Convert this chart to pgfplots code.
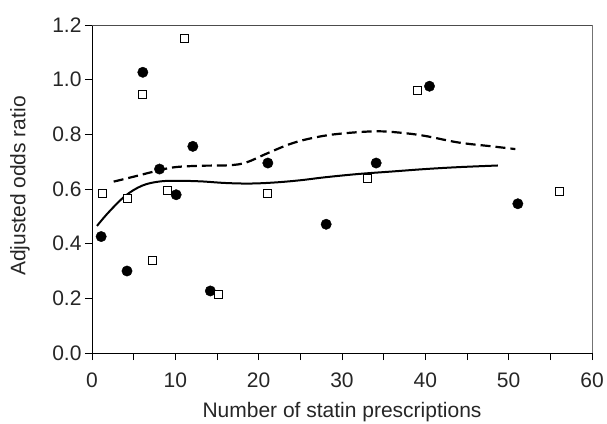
\documentclass[border=0pt]{standalone}
\usepackage{pgfplots}
\pgfplotsset{compat=1.18}
\usepackage{fontspec}
\setmainfont{Liberation Sans}
\begin{document}
\begin{tikzpicture}
\path[use as bounding box] (-92pt,-70pt) rectangle (515pt,353pt);
\begin{axis}[
  at={(0,0)}, anchor=south west,
  scale only axis, width=500pt, height=328pt,
  xmin=0, xmax=60, ymin=0, ymax=1.2,
  axis x line=bottom, axis y line=left,
  axis line style={-, line width=0.8pt},
  xtick={0,10,20,30,40,50,60}, minor xtick={5,15,25,35,45,55},
  ytick={0,0.2,0.4,0.6,0.8,1.0,1.2},
  tick align=outside, major tick length=7pt, minor tick length=7pt,
  tick style={black, line width=0.8pt},
  yticklabel style={/pgf/number format/.cd, fixed, fixed zerofill, precision=1},
  xticklabel style={yshift=-9pt},
  /pgf/number format/assume math mode=true,
  ticklabel style={font=\fontsize{21}{25}\selectfont, text=black!85},
  label style={font=\fontsize{21}{25}\selectfont, text=black!85},
  xlabel={Number of statin prescriptions},
  ylabel={Adjusted odds ratio},
  xlabel style={at={(axis description cs:0.5,-0.18)}, anchor=center},
  ylabel style={at={(axis description cs:-0.144,0.509)}, anchor=center},
  clip=false,
]
% solid smooth curve
\addplot[black, line width=2pt, smooth, tension=0.6] coordinates {
(0.6,0.465) (2,0.515) (4,0.575) (6,0.612) (8,0.627) (10,0.630) (13,0.628)
(16,0.622) (19,0.620) (22,0.624) (25,0.632) (28,0.643) (32,0.655) (36,0.664)
(40,0.673) (44,0.680) (48.7,0.686)};
% dashed smooth curve
\addplot[black, line width=2.2pt, dash pattern=on 10pt off 5pt, smooth, tension=0.6] coordinates {
(2.6,0.627) (5,0.645) (8,0.668) (10,0.680) (13,0.685) (16.5,0.687) (18.5,0.697)
(21,0.730) (24,0.767) (27,0.790) (30,0.803) (34,0.811) (37,0.806) (40,0.794)
(44,0.770) (48,0.756) (50.8,0.746)};
% filled circles
\addplot[only marks, mark=*, mark size=5.2pt, mark options={fill=black, draw=black}] coordinates {
(1.1,0.426) (4.2,0.300) (6.1,1.027) (8.1,0.673) (10.1,0.579) (12.1,0.756)
(14.2,0.227) (21.1,0.695) (28.1,0.471) (34.1,0.695) (40.5,0.976) (51.1,0.546)};
% open squares
\addplot[only marks, mark=square*, mark size=4pt, mark options={fill=white, draw=black, line width=0.9pt}] coordinates {
(1.2,0.585) (4.3,0.567) (6.1,0.945) (7.2,0.337) (9.1,0.593) (11.1,1.150)
(15.2,0.215) (21.1,0.585) (33.1,0.640) (39.1,0.961) (56.1,0.591)};
\draw[black!70, line width=0.8pt] (rel axis cs:0,1) -- (rel axis cs:1,1);
\draw[black!55, line width=0.8pt] (rel axis cs:1,1) -- (rel axis cs:1,0);
\end{axis}
\end{tikzpicture}
\end{document}
